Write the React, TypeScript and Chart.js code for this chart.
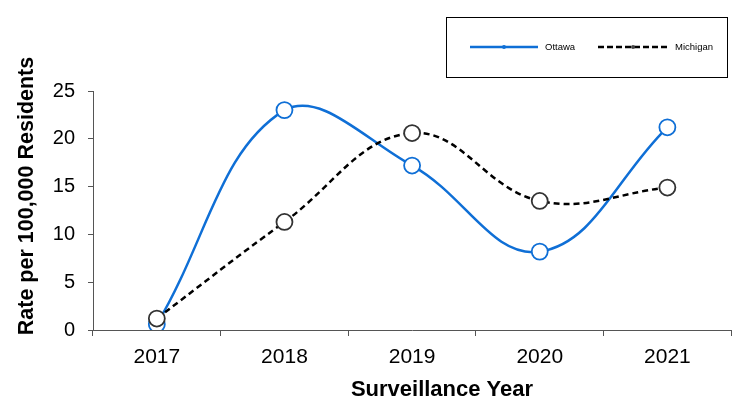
import React, { useEffect, useRef } from "react";
import { Chart, registerables } from "chart.js";

Chart.register(...registerables);

const years = ["2017", "2018", "2019", "2020", "2021"];
const ottawa = [0.6, 23.0, 17.2, 8.2, 21.2];
const michigan = [1.2, 11.3, 20.6, 13.5, 14.9];
const yTicks = [0, 5, 10, 15, 20, 25];
const seriesNames = ["Ottawa", "Michigan"];
const xTitle = "Surveillance Year";
const yTitle = "Rate per 100,000 Residents";

const BLUE = "#0f6fd6";
const DARK = "#333333";
const FONT = "'Liberation Sans', Arial, sans-serif";

const overlayPlugin = {
  id: "overlay",
  afterDraw(chart: any) {
    const ctx = chart.ctx as CanvasRenderingContext2D;
    ctx.save();
    // legend box
    ctx.strokeStyle = "#000";
    ctx.lineWidth = 1;
    ctx.strokeRect(446.5, 17.5, 281, 60);
    const ly = 47;
    // Ottawa entry
    ctx.strokeStyle = BLUE;
    ctx.lineWidth = 2.5;
    ctx.setLineDash([]);
    ctx.beginPath();
    ctx.moveTo(470, ly);
    ctx.lineTo(538, ly);
    ctx.stroke();
    ctx.fillStyle = BLUE;
    ctx.beginPath();
    ctx.arc(504, ly, 2, 0, Math.PI * 2);
    ctx.fill();
    // Michigan entry
    ctx.strokeStyle = "#000";
    ctx.setLineDash([6, 3]);
    ctx.beginPath();
    ctx.moveTo(598, ly);
    ctx.lineTo(668, ly);
    ctx.stroke();
    ctx.setLineDash([]);
    ctx.fillStyle = "#444";
    ctx.beginPath();
    ctx.arc(633, ly, 2, 0, Math.PI * 2);
    ctx.fill();
    ctx.fillStyle = "#000";
    ctx.font = `9.5px ${FONT}`;
    ctx.textBaseline = "middle";
    ctx.textAlign = "left";
    ctx.fillText(seriesNames[0], 545, ly);
    ctx.fillText(seriesNames[1], 675, ly);
    // axis titles
    ctx.font = `bold 22px ${FONT}`;
    ctx.textAlign = "center";
    ctx.fillText(xTitle, 442, 390);
    ctx.font = `bold 21.5px ${FONT}`;
    ctx.translate(27, 196);
    ctx.rotate(-Math.PI / 2);
    ctx.fillText(yTitle, 0, 0);
    ctx.restore();
  },
};

export default function App() {
  const ref = useRef<HTMLCanvasElement>(null);
  useEffect(() => {
    document.body.style.margin = "0";
    const chart = new Chart(ref.current!, {
      type: "line",
      data: {
        labels: years,
        datasets: [
          {
            label: seriesNames[1],
            data: michigan,
            borderColor: "#000",
            borderWidth: 2.5,
            borderDash: [6, 4],
            tension: 0.4,
            pointRadius: 8,
            pointBorderWidth: 1.8,
            pointBorderColor: DARK,
            pointBackgroundColor: "#fff",
            fill: false,
          },
          {
            label: seriesNames[0],
            data: ottawa,
            borderColor: BLUE,
            borderWidth: 2.5,
            tension: 0.4,
            pointRadius: 8,
            pointBorderWidth: 1.8,
            pointBorderColor: BLUE,
            pointBackgroundColor: "#fff",
            fill: false,
          },
        ],
      },
      options: {
        responsive: false,
        animation: false,
        layout: { padding: { top: 91, right: 2, left: 0, bottom: 0 } },
        plugins: { legend: { display: false }, tooltip: { enabled: false } },
        scales: {
          x: {
            offset: true,
            grid: {
              offset: true,
              drawOnChartArea: false,
              tickLength: 6,
              color: "#555",
            },
            border: { color: "#555", width: 1 },
            ticks: {
              color: "#000",
              font: { family: FONT, size: 21 },
              padding: 9,
            },
            afterFit(scale: any) {
              scale.height = 71;
            },
          },
          y: {
            min: 0,
            max: 25,
            afterBuildTicks(scale: any) {
              scale.ticks = yTicks.map((v) => ({ value: v }));
            },
            grid: { drawOnChartArea: false, tickLength: 5, color: "#555" },
            border: { color: "#555", width: 1 },
            ticks: {
              color: "#000",
              font: { family: FONT, size: 20 },
              padding: 13,
            },
            afterFit(scale: any) {
              scale.width = 93;
            },
          },
        },
      },
      plugins: [overlayPlugin],
    });
    return () => chart.destroy();
  }, []);
  return (
    <div style={{ width: 741, height: 401, background: "#fff" }}>
      <canvas ref={ref} width={741} height={401} />
    </div>
  );
}
